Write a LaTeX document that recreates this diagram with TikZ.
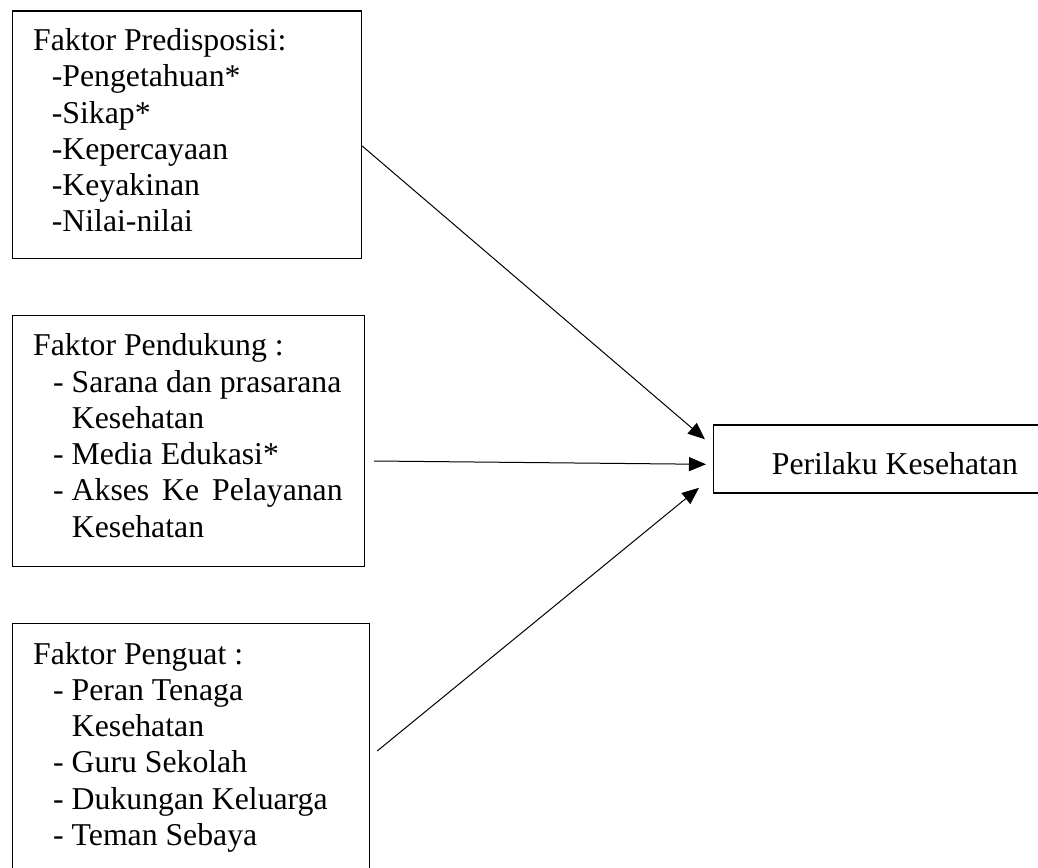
\documentclass[tikz,border=0pt]{standalone}
\usepackage{fontspec}
\setmainfont{Liberation Serif}
\usetikzlibrary{arrows.meta,calc}
\begin{document}
\begin{tikzpicture}[x=1pt,y=-1pt,
  box/.style={draw, line width=1.2pt, inner sep=0pt, anchor=north west},
  txt/.style={anchor=base west, inner sep=0pt, font=\fontsize{31.75}{36.3}\selectfont},
  arr/.style={line width=1pt, -{Triangle[length=17pt,width=14pt]}}]
\useasboundingbox (0,0) rectangle (1038,867);
\clip (0,0) rectangle (1038,867);
% boxes
\node[box, minimum width=349pt, minimum height=247.5pt] (b1) at (12,10.5) {};
\node[box, minimum width=352pt, minimum height=251pt] (b2) at (12,315) {};
\node[box, minimum width=357pt, minimum height=270pt] (b3) at (12,623) {};
\node[box, minimum width=340pt, minimum height=68pt] (b4) at (713,424.3) {};
% box 1 text
\node[txt] (t1a) at (33,50.7) {Faktor Predisposisi:};
\node[txt] (t1b) at (51.7,86.7) {-Pengetahuan*};
\node[txt] (t1c) at (51.7,123) {-Sikap*};
\node[txt] (t1d) at (51.7,159.3) {-Kepercayaan};
\node[txt] (t1e) at (51.7,195.6) {-Keyakinan};
\node[txt] (t1f) at (51.7,231.9) {-Nilai-nilai};
% box 2 text
\node[txt] (t2a) at (33,355.7) {Faktor Pendukung :};
\node[txt] (t2b) at (53,392) {- Sarana dan prasarana};
\node[txt] (t2c) at (71.7,428.3) {Kesehatan};
\node[txt] (t2d) at (53,464.6) {- Media Edukasi*};
\node[txt] (t2e) at (53,500.9) {- \makebox[271pt][s]{Akses Ke Pelayanan}};
\node[txt] (t2f) at (71.7,537.2) {Kesehatan};
% box 3 text
\node[txt] (t3a) at (33,664) {Faktor Penguat :};
\node[txt] (t3b) at (53,700.3) {- Peran Tenaga};
\node[txt] (t3c) at (71.7,736.6) {Kesehatan};
\node[txt] (t3d) at (53,772.9) {- Guru Sekolah};
\node[txt] (t3e) at (53,809.2) {- Dukungan Keluarga};
\node[txt] (t3f) at (53,845.5) {- Teman Sebaya};
% box 4 text
\node[txt] (t4) at (771.7,474.3) {Perilaku Kesehatan};
% connector ends
\coordinate (s1) at ($(b1.north east)+(0,135.5)$);
\coordinate (s2) at ($(b2.north east)+(9,146)$);
\coordinate (s3) at ($(b3.north east)+(7,128)$);
\coordinate (e1) at ($(b4.north west)+(-8,15)$);
\coordinate (e2) at ($(b4.north west)+(-7,40)$);
\coordinate (e3) at ($(b4.north west)+(-14,63.5)$);
\draw[arr] (s1) -- (e1);
\draw[arr] (s2) -- (e2);
\draw[arr] (s3) -- (e3);
\end{tikzpicture}
\end{document}
